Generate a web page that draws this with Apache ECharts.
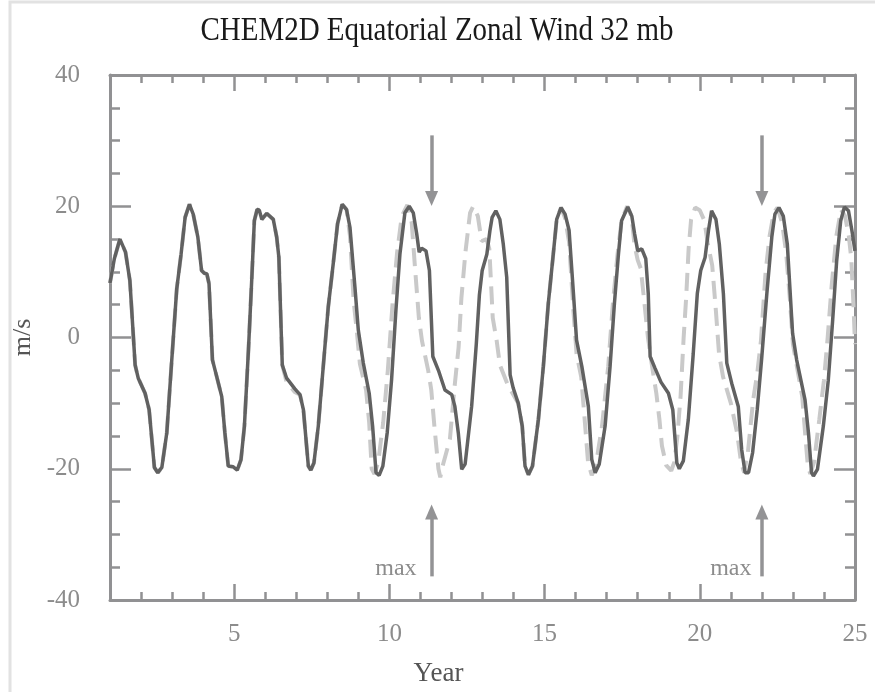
<!DOCTYPE html>
<html>
<head>
<meta charset="utf-8">
<script src="https://cdn.jsdelivr.net/npm/echarts@6/dist/echarts.min.js"></script>
<style>
  html, body { margin: 0; padding: 0; background: #fff; }
  #chart { width: 875px; height: 692px; }
</style>
</head>
<body>
<div id="chart"></div>
<script>
// CHEM2D model run (solid) and comparison run (dashed), zonal wind at 32 mb
const solidYears = [1.00,1.14,1.32,1.50,1.64,1.81,1.91,2.13,2.26,2.43,2.54,2.67,2.83,2.99,3.15,3.29,3.42,3.56,3.68,3.83,3.95,4.04,4.12,4.19,4.30,4.44,4.60,4.70,4.81,4.97,5.10,5.22,5.33,5.46,5.57,5.65,5.74,5.81,5.89,6.05,6.26,6.37,6.44,6.55,6.69,6.95,7.12,7.23,7.39,7.47,7.57,7.71,7.87,8.03,8.19,8.33,8.48,8.62,8.73,8.89,9.00,9.16,9.35,9.46,9.57,9.67,9.79,9.93,10.07,10.21,10.34,10.50,10.64,10.77,10.88,10.96,11.04,11.18,11.29,11.40,11.58,11.79,12.01,12.11,12.22,12.33,12.44,12.65,12.80,12.90,12.99,13.14,13.24,13.31,13.43,13.56,13.67,13.78,13.89,13.99,14.15,14.28,14.37,14.48,14.61,14.80,14.96,15.12,15.28,15.39,15.53,15.66,15.79,15.93,16.03,16.20,16.41,16.52,16.63,16.76,16.95,17.11,17.25,17.38,17.48,17.68,17.81,17.90,18.00,18.13,18.26,18.34,18.40,18.56,18.75,18.99,19.13,19.26,19.34,19.47,19.63,19.79,19.92,20.03,20.17,20.28,20.38,20.52,20.63,20.76,20.87,21.03,21.24,21.35,21.46,21.57,21.70,21.85,21.99,22.16,22.32,22.42,22.55,22.69,22.82,22.99,23.12,23.39,23.50,23.60,23.66,23.79,23.98,24.14,24.28,24.41,24.54,24.66,24.79,24.90,25.00];
const solidWind = [8.3,12.0,15.0,13.0,8.7,-4.2,-6.2,-8.5,-11.0,-19.8,-20.6,-19.8,-14.5,-3.4,7.4,12.7,18.3,20.3,18.8,15.3,10.2,9.8,9.7,8.2,-3.4,-6.0,-9.0,-14.5,-19.6,-19.7,-20.2,-18.6,-13.5,-1.9,9.2,17.8,19.5,19.4,18.0,18.9,18.0,15.3,12.2,-4.2,-6.2,-7.8,-8.7,-11.0,-19.6,-20.2,-19.1,-13.5,-4.4,4.6,11.2,17.3,20.3,19.5,16.8,7.7,1.1,-3.9,-8.5,-13.5,-20.6,-21.0,-19.6,-14.5,-6.5,4.1,12.7,19.0,20.0,19.0,15.8,13.0,13.6,13.2,10.2,-2.9,-5.0,-8.0,-8.7,-10.5,-14.5,-20.1,-19.3,-10.5,-1.0,6.5,10.2,12.7,16.3,18.3,19.3,18.0,14.2,9.2,-5.7,-7.7,-10.0,-13.5,-19.6,-20.9,-19.6,-12.5,-4.4,5.2,12.7,18.0,19.8,18.8,16.3,6.7,-0.4,-4.4,-10.5,-18.6,-20.6,-19.3,-13.5,-4.4,5.2,12.7,17.8,19.9,18.5,15.8,13.2,13.5,12.0,6.7,-2.9,-4.7,-6.8,-8.5,-11.0,-19.1,-20.0,-18.8,-12.5,-2.4,6.7,10.2,12.2,16.3,19.3,18.0,14.2,6.7,-3.9,-7.0,-10.5,-17.1,-20.6,-20.6,-17.6,-11.0,-3.4,6.7,15.3,18.8,19.8,18.5,14.2,0.6,-3.4,-9.5,-14.5,-20.6,-21.1,-20.1,-13.5,-6.5,2.6,11.7,17.8,19.9,19.3,16.3,13.2];

const dashYears = [1.00,1.14,1.32,1.50,1.64,1.81,1.91,2.13,2.26,2.43,2.54,2.67,2.83,2.99,3.15,3.29,3.42,3.56,3.68,3.83,3.95,4.04,4.12,4.19,4.30,4.44,4.60,4.70,4.81,4.97,5.10,5.22,5.33,5.46,5.57,5.65,5.74,5.81,5.89,6.05,6.26,6.37,6.44,6.55,6.69,6.95,7.12,7.23,7.39,7.47,7.57,7.71,7.87,8.03,8.19,8.33,8.48,8.62,8.73,8.85,8.95,9.05,9.25,9.35,9.43,9.52,9.64,9.80,9.95,10.10,10.25,10.40,10.58,10.72,10.82,10.95,11.05,11.25,11.35,11.45,11.58,11.64,11.72,11.95,12.10,12.23,12.32,12.45,12.60,12.70,12.85,12.97,13.13,13.22,13.33,13.46,13.56,13.82,14.15,14.28,14.37,14.48,14.61,14.80,14.96,15.12,15.28,15.39,15.53,15.66,15.79,15.93,16.03,16.18,16.30,16.40,16.52,16.65,16.85,17.05,17.20,17.35,17.48,17.66,17.80,17.90,18.00,18.10,18.20,18.33,18.45,18.60,18.70,18.78,18.92,19.08,19.18,19.28,19.38,19.48,19.56,19.64,19.72,19.85,20.00,20.15,20.25,20.40,20.52,20.62,20.75,21.00,21.20,21.33,21.43,21.55,21.72,21.85,21.97,22.12,22.25,22.38,22.50,22.65,22.78,22.90,23.00,23.15,23.30,23.40,23.48,23.56,23.68,23.85,24.00,24.12,24.25,24.40,24.55,24.68,24.80,24.88,24.95,25.00];
const dashWind = [8.3,12.0,15.0,13.0,8.7,-4.2,-6.2,-8.5,-11.0,-19.8,-20.6,-19.8,-14.5,-3.4,7.4,12.7,18.3,20.3,18.8,15.3,10.2,9.8,9.7,8.2,-3.4,-6.0,-9.0,-14.5,-19.6,-19.7,-20.2,-18.6,-13.5,-1.9,9.2,17.8,19.5,19.4,18.0,18.9,18.0,15.3,12.2,-4.2,-6.8,-8.3,-8.7,-11.0,-19.6,-20.2,-19.1,-13.5,-4.4,4.6,11.2,17.3,20.3,19.5,15.5,5.5,1.0,-4.0,-8.0,-13.0,-20.0,-20.8,-19.0,-13.0,-5.0,5.0,13.0,18.5,20.2,17.5,11.0,3.0,-0.5,-5.0,-8.0,-13.5,-20.0,-21.3,-19.5,-15.5,-7.5,-1.5,6.0,13.0,19.0,20.0,18.5,14.7,15.0,13.5,3.0,-0.6,-4.2,-7.3,-10.0,-13.5,-19.6,-20.9,-19.6,-12.5,-4.4,5.2,12.7,18.0,19.8,18.2,14.5,4.0,-2.5,-6.0,-13.0,-19.0,-21.0,-19.5,-13.5,-4.4,5.2,12.7,17.8,20.0,18.5,14.0,11.8,10.5,6.0,0.0,-4.0,-8.5,-12.5,-16.5,-19.5,-20.3,-19.0,-15.0,-9.0,0.0,6.0,13.5,18.0,19.8,19.4,17.8,14.5,11.0,4.0,-2.5,-6.0,-10.0,-14.5,-19.0,-20.6,-17.5,-9.5,-5.5,-0.5,10.0,15.5,19.0,19.8,17.5,13.0,6.0,-1.0,-5.0,-9.0,-15.0,-19.5,-20.8,-19.0,-12.5,-6.5,0.0,8.0,15.5,19.5,18.5,15.5,12.0,5.0,-1.0];

// axis ticks and labels
const yearLabels = [5, 10, 15, 20, 25];
const yearMinorTicks = [2,3,4,5,6,7,8,9,10,11,12,13,14,15,16,17,18,19,20,21,22,23,24];
const yearMajorTicks = [5, 10, 15, 20];
const windLabels = [-40, -20, 0, 20, 40];
const windMinorTicks = [-35,-30,-25,-15,-10,-5,5,10,15,25,30,35];
const windMajorTicks = [-40, -20, 0, 20, 40];

// "max" annotations
const arrowYears = [11.36, 22.0];
const arrowDownFrom = 30.8, arrowDownTo = 21.2;
const arrowUpFrom = -36.4, arrowUpTo = -26.6;
const maxLabelYears = [10.21, 21.0];
const maxLabelWind = -35.3;

const chartTitle = 'CHEM2D Equatorial Zonal Wind 32 mb';

const axisGray = '#919193';
const labelGray = '#8c8c8c';
const serif = '"Liberation Serif", "Times New Roman", serif';

const zip = (xs, ys) => xs.map((x, i) => [x, ys[i]]);

function xAxisDef(position, ticks, tickLen, showLine, labels) {
  return {
    type: 'value', position, min: 1, max: 25, interval: 1,
    axisLine: { show: showLine, onZero: false, lineStyle: { color: axisGray, width: 3 } },
    axisTick: { show: true, inside: true, length: tickLen, customValues: ticks,
                lineStyle: { color: axisGray, width: 2.5 } },
    axisLabel: labels
      ? { show: true, customValues: labels, margin: 22, color: labelGray,
          fontFamily: serif, fontSize: 25 }
      : { show: false },
    splitLine: { show: false },
    name: labels ? 'Year' : '',
    nameLocation: 'middle', nameGap: 60,
    // the axis title sits at the page centre rather than the plot centre
    nameTextStyle: { fontFamily: serif, fontSize: 27, color: '#555', padding: [0, 88, 0, 0] }
  };
}

function yAxisDef(position, ticks, tickLen, showLine, labels) {
  return {
    type: 'value', position, min: -40, max: 40, interval: 5,
    axisLine: { show: showLine, onZero: false, lineStyle: { color: axisGray, width: 3 } },
    axisTick: { show: true, inside: true, length: tickLen, customValues: ticks,
                lineStyle: { color: axisGray, width: 2.5 } },
    axisLabel: labels
      ? { show: true, customValues: labels, margin: 30, color: labelGray,
          fontFamily: serif, fontSize: 25 }
      : { show: false },
    splitLine: { show: false },
    name: labels ? 'm/s' : '',
    nameLocation: 'middle', nameGap: 72,
    nameTextStyle: { fontFamily: serif, fontSize: 26, color: '#555' }
  };
}

const arrowLines = [];
arrowYears.forEach(x => {
  arrowLines.push([{ coord: [x, arrowDownFrom] }, { coord: [x, arrowDownTo] }]);
  arrowLines.push([{ coord: [x, arrowUpFrom] }, { coord: [x, arrowUpTo] }]);
});

const chart = echarts.init(document.getElementById('chart'), null, { renderer: 'canvas' });
chart.setOption({
  animation: false,
  backgroundColor: '#ffffff',
  graphic: [
    {
      // light page frame
      type: 'polyline',
      shape: { points: [[10, 692], [10, 2], [875, 2]] },
      style: { stroke: '#e2e2e2', lineWidth: 3, fill: null },
      silent: true
    },
    {
      // tall serif heading
      type: 'text',
      x: 437, y: 31, scaleY: 1.15,
      style: {
        text: chartTitle, fill: '#1a1a1a',
        font: '29px "Liberation Serif", "Times New Roman", serif',
        textAlign: 'center', textVerticalAlign: 'middle'
      },
      silent: true
    }
  ],
  grid: { left: 110, right: 20, top: 75, bottom: 88, containLabel: false },
  xAxis: [
    xAxisDef('bottom', yearMinorTicks, 8, true, yearLabels),
    xAxisDef('bottom', yearMajorTicks, 16, false, null),
    xAxisDef('top', yearMinorTicks, 8, true, null),
    xAxisDef('top', yearMajorTicks, 16, false, null)
  ],
  yAxis: [
    yAxisDef('left', windMinorTicks, 10, true, windLabels),
    yAxisDef('left', windMajorTicks, 21, false, null),
    yAxisDef('right', windMinorTicks, 10, true, null),
    yAxisDef('right', windMajorTicks, 21, false, null)
  ],
  series: [
    {
      name: 'comparison',
      type: 'line',
      xAxisIndex: 0, yAxisIndex: 0,
      data: zip(dashYears, dashWind),
      showSymbol: false, symbol: 'none',
      lineStyle: { color: '#c9c9c9', width: 4, type: [18, 9] },
      z: 2,
      markLine: {
        silent: true,
        symbol: ['none', 'triangle'],
        symbolSize: [13, 15],
        label: { show: false },
        lineStyle: { color: '#939395', width: 3.5, type: 'solid' },
        data: arrowLines
      },
      markPoint: {
        silent: true,
        symbol: 'circle', symbolSize: 1,
        itemStyle: { color: 'rgba(0,0,0,0)' },
        label: { show: true, position: 'inside', formatter: 'max',
                 color: labelGray, fontFamily: serif, fontSize: 24 },
        data: maxLabelYears.map(x => ({ coord: [x, maxLabelWind] }))
      }
    },
    {
      name: 'CHEM2D',
      type: 'line',
      xAxisIndex: 0, yAxisIndex: 0,
      data: zip(solidYears, solidWind),
      showSymbol: false, symbol: 'none',
      lineStyle: { color: '#616161', width: 3.5 },
      z: 3
    }
  ]
});
</script>
</body>
</html>
